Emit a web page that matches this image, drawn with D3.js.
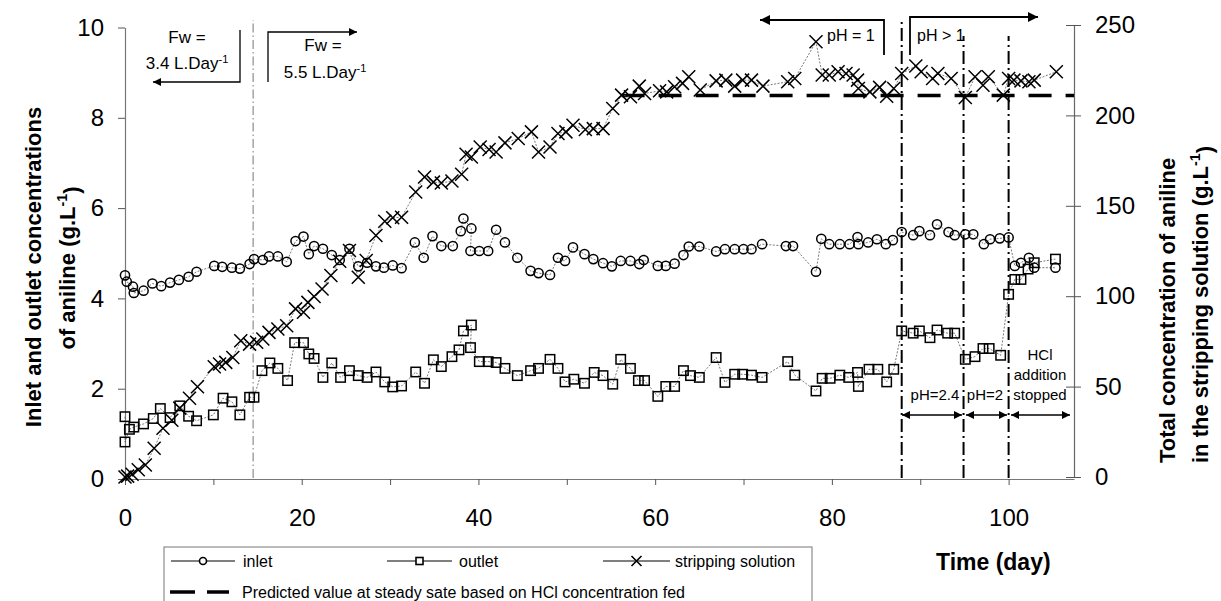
<!DOCTYPE html>
<html>
<head>
<meta charset="utf-8">
<script src="https://cdn.jsdelivr.net/npm/d3@7"></script>
<style>
  body { margin: 0; background: #fff; }
  svg { display: block; }
  text { font-family: "Liberation Sans", Arial, Helvetica, sans-serif; fill: #000; }
</style>
</head>
<body>
<svg id="chart" width="1221" height="601"></svg>
<script>
// Inlet aniline concentration, g/L  [day, value]
const inlet = [
  [0,4.51],[0.2,4.37],[0.9,4.26],[1.0,4.12],[2.1,4.17],[3.1,4.33],[4.1,4.27],[5.1,4.35],[6.1,4.41],[7.2,4.48],
  [8.1,4.59],[10.1,4.72],[11.0,4.70],[12.1,4.68],[13.0,4.66],[14.1,4.76],[14.6,4.87],[15.6,4.85],[16.3,4.93],[17.3,4.93],
  [18.3,4.81],[19.3,5.27],[20.2,5.37],[20.8,4.98],[21.4,5.16],[22.4,5.10],[23.4,4.96],[24.3,4.85],[25.4,5.10],[26.4,4.71],
  [27.4,4.79],[28.4,4.71],[29.3,4.68],[30.3,4.73],[31.3,4.67],[32.8,5.24],[33.8,4.90],[34.8,5.38],[35.8,5.16],[37.1,5.16],
  [38.0,5.49],[38.3,5.77],[39.2,5.55],[39.1,5.05],[40.1,5.05],[41.1,5.05],[42.0,5.52],[43.0,5.24],[44.4,4.90],[45.9,4.61],
  [46.8,4.56],[48.1,4.52],[49.0,4.90],[49.8,4.83],[50.7,5.13],[52.0,4.98],[53.0,4.87],[54.1,4.78],[55.1,4.71],[56.1,4.83],
  [57.2,4.83],[58.2,4.76],[58.7,4.85],[60.3,4.72],[61.2,4.72],[62.2,4.77],[63.2,4.96],[63.8,5.15],[65.0,5.15],[66.9,5.04],
  [67.9,5.09],[69.0,5.09],[70.0,5.09],[70.9,5.09],[72.1,5.20],[74.8,5.16],[75.6,5.16],[78.2,4.59],[78.8,5.32],[79.7,5.20],
  [80.9,5.20],[82.0,5.20],[82.9,5.36],[83.0,5.20],[84.1,5.24],[85.1,5.31],[86.1,5.20],[86.9,5.29],[87.9,5.47],[89.2,5.40],
  [89.9,5.49],[91.1,5.40],[91.9,5.64],[93.2,5.47],[93.9,5.40],[95.1,5.42],[96.0,5.42],[97.2,5.20],[97.9,5.31],[99.0,5.33],
  [100.0,5.35],[100.7,4.72],[101.4,4.79],[102.3,4.90],[102.9,4.68],[105.3,4.68]
];

// Outlet aniline concentration, g/L  [day, value]
const outlet = [
  [0,1.38],[0,0.82],[0.5,1.10],[1.0,1.15],[2.1,1.22],[3.2,1.34],[4.0,1.56],[5.1,1.36],[6.2,1.62],[7.2,1.39],
  [8.1,1.29],[10.0,1.42],[11.1,1.79],[12.1,1.71],[13.0,1.42],[14.1,1.81],[14.6,1.81],[15.5,2.40],[16.4,2.57],[17.3,2.45],
  [18.4,2.18],[19.2,3.02],[20.2,3.02],[20.8,2.77],[21.4,2.67],[22.4,2.25],[23.4,2.57],[24.4,2.25],[25.4,2.40],[26.4,2.29],
  [27.4,2.25],[28.4,2.37],[29.4,2.15],[30.3,2.04],[31.3,2.06],[32.9,2.37],[33.9,2.12],[34.9,2.64],[35.8,2.49],[37.0,2.71],
  [37.8,2.86],[38.3,3.28],[39.2,3.41],[39.1,2.91],[40.1,2.60],[41.1,2.60],[42.0,2.58],[43.0,2.45],[44.4,2.29],[45.9,2.40],
  [46.8,2.45],[48.1,2.65],[49.0,2.45],[49.8,2.15],[50.8,2.21],[52.0,2.12],[53.1,2.36],[54.1,2.29],[55.2,2.10],[56.1,2.65],
  [57.2,2.45],[58.1,2.18],[58.8,2.18],[60.3,1.83],[61.2,2.05],[62.2,2.05],[63.2,2.40],[64.0,2.29],[65.0,2.25],[66.9,2.69],
  [67.9,2.14],[69.0,2.32],[69.9,2.32],[70.9,2.30],[72.1,2.25],[75.0,2.60],[75.8,2.30],[78.2,1.95],[78.9,2.23],[79.8,2.23],
  [80.9,2.30],[81.9,2.25],[82.9,2.36],[83.0,2.05],[84.2,2.43],[85.2,2.43],[86.2,2.15],[87.0,2.43],[87.9,3.28],[89.2,3.23],
  [89.9,3.28],[91.1,3.13],[91.9,3.30],[93.1,3.23],[93.9,3.23],[95.1,2.65],[96.2,2.71],[97.1,2.89],[97.8,2.89],[99.1,2.74],
  [100.0,4.09],[100.7,4.42],[101.4,4.42],[102.2,4.65],[102.9,4.79],[105.3,4.87]
];

// Total aniline in the stripping solution, g/L  [day, value]
const stripping = [
  [0,0],[0.3,0.5],[0.8,1.5],[1.5,4],[2.3,6.6],[3.3,15.9],[4.3,27],[5.3,31.4],[6.2,38.1],[7.3,43.6],
  [8.2,49.9],[10.1,61],[10.7,62.5],[11.4,63.4],[12.2,66.1],[13.1,75.4],[14.1,73.5],[14.9,74.5],[15.6,76.3],[16.3,80],
  [17.3,81.9],[18.3,83.7],[19.3,93],[20.2,91.1],[20.7,96.6],[21.4,99.8],[22.3,104],[23.3,111.4],[24.3,119.3],[25.4,125.3],
  [26.4,110.5],[27.3,119.7],[28.4,133.6],[29.4,141.5],[30.3,143.4],[31.3,143.7],[32.9,157.6],[33.9,165.9],[34.9,163.1],[35.8,162.6],
  [37.0,163.7],[38.1,167.4],[38.6,178.5],[39.2,177],[40.2,182.5],[41.2,181.1],[42.0,179.8],[43.0,184.8],[44.5,187.2],[46.0,190.9],
  [46.8,179.8],[48.1,182.5],[49.0,190],[49.9,190.9],[50.7,194.6],[52.1,192.2],[53.0,192.7],[54.1,192.7],[55.2,203.8],[56.2,211.2],
  [57.2,210.3],[58.2,216.2],[58.8,212.1],[60.5,213.6],[61.3,213],[62.2,215.8],[63.1,217.7],[63.8,221.4],[65.1,214],[66.9,219.1],
  [68.0,219.5],[69.0,216.2],[69.9,219.5],[70.9,219.5],[72.2,216.2],[75.0,218.6],[75.8,220.4],[78.2,240.7],[78.9,222.3],[79.7,222.3],
  [80.7,224.1],[81.6,223.2],[82.4,222.3],[82.9,219.5],[83.0,214.9],[84.3,213],[85.4,215.5],[86.2,210.6],[87.0,214.9],[87.9,223.2],
  [89.5,227.3],[90.1,224.1],[91.4,220.4],[92.0,223.2],[93.5,220.4],[95.1,209.9],[96.2,221.4],[97.1,216.7],[97.7,221.4],[99.4,211.2],
  [100.0,220.4],[100.6,219.5],[101.4,219.1],[102.3,218.6],[102.9,219.5],[105.4,224.1]
];

// Predicted steady-state value (g/L) and the days it spans
const predictedValue = 211;
const predictedDays = [56.2, 107.4];

// Operating-change days
const flowChangeDay = 14.5;
const phChangeDays = [87.9, 94.9, 100.0];

// Axis ticks
const xTicks = [0, 10, 20, 30, 40, 50, 60, 70, 80, 90, 100];
const leftTicks = [0, 2, 4, 6, 8, 10];
const rightTicks = [0, 50, 100, 150, 200, 250];

const svg = d3.select("#chart");
const x = d3.scaleLinear().domain([0, 107.4]).range([125, 1074]);
const yL = d3.scaleLinear().domain([0, 10]).range([479, 27.5]);
const yR = d3.scaleLinear().domain([0, 250]).range([477, 25]);

// arrowhead marker
const defs = svg.append("defs");
function addMarker(id, w, h) {
  defs.append("marker").attr("id", id)
    .attr("viewBox", "0 0 10 10").attr("refX", 10).attr("refY", 5)
    .attr("markerUnits", "userSpaceOnUse")
    .attr("markerWidth", w).attr("markerHeight", h)
    .attr("orient", "auto-start-reverse")
    .append("path").attr("d", "M0,0 L10,5 L0,10 Z").attr("fill", "#000");
}
addMarker("arrowBig", 14, 10);
addMarker("arrowSmall", 11, 8);

// ---- axes ----
const fontAxis = 24;
const gx = svg.append("g").attr("transform", "translate(0,479)")
  .call(d3.axisBottom(x).tickValues(xTicks).tickSizeInner(6).tickSizeOuter(0).tickPadding(24)
    .tickFormat(d => d % 20 === 0 ? d : ""));
gx.select(".domain").attr("stroke", "#777").attr("stroke-width", 1.2);
gx.selectAll(".tick line").attr("stroke", "#555");
gx.selectAll("text").attr("font-size", fontAxis).attr("font-family", "Liberation Sans, Arial, sans-serif");

const gl = svg.append("g").attr("transform", "translate(125,0)")
  .call(d3.axisLeft(yL).tickValues(leftTicks).tickSizeInner(7).tickSizeOuter(0).tickPadding(14));
gl.select(".domain").attr("stroke", "#777").attr("stroke-width", 1.2);
gl.selectAll(".tick line").attr("stroke", "#555");
gl.selectAll("text").attr("font-size", fontAxis).attr("font-family", "Liberation Sans, Arial, sans-serif");

const gr = svg.append("g").attr("transform", "translate(1074,0)")
  .call(d3.axisRight(yR).tickValues(rightTicks).tickSizeInner(7).tickSizeOuter(0).tickPadding(14));
gr.select(".domain").attr("stroke", "#666").attr("stroke-width", 1.2);
gr.selectAll(".tick line").attr("stroke", "#555").attr("x1", -8);
gr.selectAll("text").attr("font-size", fontAxis).attr("font-family", "Liberation Sans, Arial, sans-serif");

// ---- axis titles ----
function supText(sel, parts) {
  parts.forEach(p => {
    const t = sel.append("tspan").text(p.t);
    if (p.sup) t.attr("font-size", "0.65em").attr("dy", "-0.55em");
    if (p.after) t.attr("dy", "0.55em");
  });
}
const leftTitle = svg.append("g").attr("font-weight", "bold").attr("font-size", 22);
leftTitle.append("text").attr("transform", "translate(41,267) rotate(-90)").attr("text-anchor", "middle")
  .text("Inlet and outlet concentrations");
supText(leftTitle.append("text").attr("transform", "translate(75,268) rotate(-90)").attr("text-anchor", "middle"),
  [{t: "of aniline (g.L"}, {t: "-1", sup: true}, {t: ")", after: true}]);

const rightTitle = svg.append("g").attr("font-weight", "bold").attr("font-size", 22);
rightTitle.append("text").attr("transform", "translate(1175,463) rotate(-90)").attr("text-anchor", "start")
  .text("Total concentration of aniline");
supText(rightTitle.append("text").attr("transform", "translate(1208,463) rotate(-90)").attr("text-anchor", "start"),
  [{t: "in the stripping solution (g.L"}, {t: "-1", sup: true}, {t: ")", after: true}]);

svg.append("text").attr("x", 936).attr("y", 570).attr("font-weight", "bold").attr("font-size", 23)
  .text("Time (day)");

// ---- vertical event lines ----
svg.append("line")
  .attr("x1", x(flowChangeDay)).attr("x2", x(flowChangeDay)).attr("y1", 478).attr("y2", 20)
  .attr("stroke", "#777").attr("stroke-width", 1).attr("stroke-dasharray", "9,3,1.5,3");

svg.selectAll(".phline").data(phChangeDays).join("line").attr("class", "phline")
  .attr("x1", d => x(d)).attr("x2", d => x(d))
  .attr("y1", 478).attr("y2", (d, i) => i === 0 ? 22 : 36)
  .attr("stroke", "#000").attr("stroke-width", 2).attr("stroke-dasharray", "13,4,2,4");

// ---- predicted steady state ----
svg.append("line")
  .attr("x1", x(predictedDays[0])).attr("x2", x(predictedDays[1]))
  .attr("y1", yR(predictedValue)).attr("y2", yR(predictedValue))
  .attr("stroke", "#000").attr("stroke-width", 3.6).attr("stroke-dasharray", "23,14");

// ---- series ----
const connector = (sel, data, y) => sel.append("path")
  .datum(data)
  .attr("d", d3.line().x(d => x(d[0])).y(d => y(d[1])))
  .attr("fill", "none").attr("stroke", "#555").attr("stroke-width", 0.8).attr("stroke-dasharray", "2,1.5");

const plot = svg.append("g");
connector(plot, inlet, yL);
connector(plot, outlet, yL);
connector(plot, stripping, yR);

const mk = { stroke: "#000", width: 1.5 };
plot.append("g").selectAll("circle").data(inlet).join("circle")
  .attr("cx", d => x(d[0])).attr("cy", d => yL(d[1])).attr("r", 4.6)
  .attr("fill", "none").attr("stroke", mk.stroke).attr("stroke-width", mk.width);

plot.append("g").selectAll("rect").data(outlet).join("rect")
  .attr("x", d => x(d[0]) - 4.7).attr("y", d => yL(d[1]) - 4.7).attr("width", 9.4).attr("height", 9.4)
  .attr("fill", "none").attr("stroke", mk.stroke).attr("stroke-width", mk.width);

const xSize = 6.5;
plot.append("g").selectAll("path").data(stripping).join("path")
  .attr("d", d => {
    const cx = x(d[0]), cy = yR(d[1]);
    return `M${cx - xSize},${cy - xSize}L${cx + xSize},${cy + xSize}M${cx - xSize},${cy + xSize}L${cx + xSize},${cy - xSize}`;
  })
  .attr("fill", "none").attr("stroke", mk.stroke).attr("stroke-width", mk.width);

// ---- annotations: feed flow ----
const ann = svg.append("g").attr("fill", "none").attr("stroke", "#000").attr("stroke-width", 1.3);
ann.append("polyline").attr("points", "240,30 240,82 153,82").attr("marker-end", "url(#arrowSmall)");
ann.append("polyline").attr("points", "268,82 268,32 357,32").attr("marker-end", "url(#arrowSmall)");

const annText = svg.append("g").attr("font-size", 17).attr("text-anchor", "middle");
annText.append("text").attr("x", 187).attr("y", 43).text("Fw  =");
supText(annText.append("text").attr("x", 187).attr("y", 69), [{t: "3.4 L.Day"}, {t: "-1", sup: true}]);
annText.append("text").attr("x", 323).attr("y", 51).text("Fw  =");
supText(annText.append("text").attr("x", 325).attr("y", 78), [{t: "5.5 L.Day"}, {t: "-1", sup: true}]);

// ---- annotations: pH regimes ----
const ph = svg.append("g").attr("fill", "none").attr("stroke", "#000").attr("stroke-width", 1.8);
ph.append("polyline").attr("points", "884,55 884,20 760,20").attr("marker-end", "url(#arrowBig)");
ph.append("polyline").attr("points", "910,55 910,17 1038,17").attr("marker-end", "url(#arrowBig)");

const phText = svg.append("g").attr("font-size", 16);
phText.append("text").attr("x", 827).attr("y", 41).text("pH = 1");
phText.append("text").attr("x", 917).attr("y", 41).text("pH > 1");

// period double arrows
const spans = [[902, 962], [966, 1007], [1011, 1070]];
const sp = svg.append("g").attr("stroke", "#000").attr("stroke-width", 1.6);
spans.forEach(s => sp.append("line").attr("x1", s[0]).attr("x2", s[1]).attr("y1", 415).attr("y2", 415)
  .attr("marker-start", "url(#arrowSmall)").attr("marker-end", "url(#arrowSmall)"));

const perText = svg.append("g").attr("font-size", 15).attr("text-anchor", "middle");
perText.append("text").attr("x", 935).attr("y", 400).text("pH=2.4");
perText.append("text").attr("x", 985).attr("y", 400).text("pH=2");
perText.append("text").attr("x", 1040).attr("y", 360).text("HCl");
perText.append("text").attr("x", 1040).attr("y", 380).text("addition");
perText.append("text").attr("x", 1040).attr("y", 400).text("stopped");

// ---- legend ----
const lg = svg.append("g");
lg.append("rect").attr("x", 164).attr("y", 547).attr("width", 648).attr("height", 70)
  .attr("fill", "#fff").attr("stroke", "#777").attr("stroke-width", 1);
const ly1 = 561, ly2 = 592;
const lgItems = [
  { x1: 171, x2: 235, label: "inlet", tx: 243, kind: "circle" },
  { x1: 387, x2: 452, label: "outlet", tx: 459, kind: "square" },
  { x1: 603, x2: 670, label: "stripping solution", tx: 675, kind: "cross" }
];
lgItems.forEach(it => {
  lg.append("line").attr("x1", it.x1).attr("x2", it.x2).attr("y1", ly1).attr("y2", ly1)
    .attr("stroke", "#000").attr("stroke-width", 1);
  const cx = (it.x1 + it.x2) / 2;
  if (it.kind === "circle") {
    lg.append("circle").attr("cx", cx).attr("cy", ly1).attr("r", 3.5)
      .attr("fill", "#fff").attr("stroke", "#000").attr("stroke-width", 1.6);
  } else if (it.kind === "square") {
    lg.append("rect").attr("x", cx - 3.5).attr("y", ly1 - 3.5).attr("width", 7).attr("height", 7)
      .attr("fill", "#fff").attr("stroke", "#000").attr("stroke-width", 1.6);
  } else {
    lg.append("path").attr("d", `M${cx - 5},${ly1 - 5}L${cx + 5},${ly1 + 5}M${cx - 5},${ly1 + 5}L${cx + 5},${ly1 - 5}`)
      .attr("stroke", "#000").attr("stroke-width", 1.6);
  }
  lg.append("text").attr("x", it.tx).attr("y", ly1 + 6).attr("font-size", 16).text(it.label);
});
lg.append("line").attr("x1", 170).attr("x2", 229).attr("y1", ly2).attr("y2", ly2)
  .attr("stroke", "#000").attr("stroke-width", 3.6).attr("stroke-dasharray", "25,12");
lg.append("text").attr("x", 242).attr("y", ly2 + 6).attr("font-size", 16)
  .text("Predicted value at steady sate based on HCl concentration fed");
</script>
</body>
</html>
